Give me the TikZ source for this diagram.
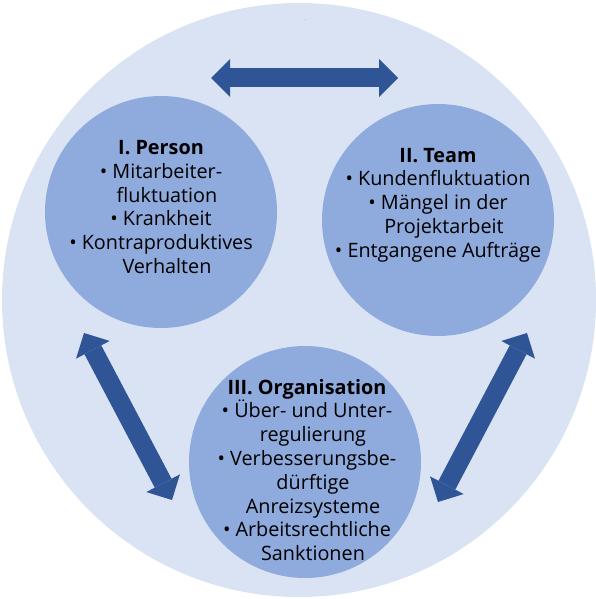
\documentclass[tikz,border=0pt]{standalone}
\usepackage{fontspec}
\setmainfont{Open Sans}
\usetikzlibrary{arrows.meta}
\definecolor{outerblue}{HTML}{DAE3F3}
\definecolor{innerblue}{HTML}{8FAADC}
\definecolor{arrowblue}{HTML}{2F5597}
\newcommand\einzug{\hspace*{12pt}}

\begin{document}
\begin{tikzpicture}[x=1pt,y=-1pt,
	bubble/.style={circle,fill=innerblue,minimum size=232pt,inner sep=0pt},
	body/.style={align=center,inner sep=0pt,font=\fontsize{19.8}{23.8}\selectfont},
	link/.style={draw=arrowblue,line width=19pt,
		{Triangle[length=19pt,width=38pt,line width=0pt]}-{Triangle[length=19pt,width=38pt,line width=0pt]}}]
\useasboundingbox (0,0) rectangle (596,599);
\fill[outerblue] (299,300) circle[radius=297pt];
\node[font=\fontsize{4}{4}\selectfont,inner sep=0pt] (dot) at (306,20) {.};

\node[bubble] (person) at (161,212) {};
\node[bubble] (team) at (438,220) {};
\node[bubble] (orga) at (305,462) {};

\node[body] (person text) at (161,207) {\textbf{I. Person}\\
	• Mitarbeiter-\\\einzug fluktuation\\
	• Krankheit\\
	• Kontraproduktives\\\einzug Verhalten};
\node[body] (team text) at (438,205) {\textbf{II. Team}\\
	• Kundenfluktuation\\
	• Mängel in der\\\einzug Projektarbeit\\
	• Entgangene Aufträge};
\node[body] (orga text) at (307,470) {\textbf{III. Organisation}\\
	• Über- und Unter-\\\einzug regulierung\\
	• Verbesserungsbe-\\\einzug dürftige\\\einzug Anreizsysteme\\
	• Arbeitsrechtliche\\\einzug Sanktionen};

\coordinate (top l) at (211,78);
\coordinate (top r) at (398,78);
\coordinate (left u) at (84,333);
\coordinate (left d) at (172,500);
\coordinate (right u) at (527,333);
\coordinate (right d) at (438,502);
\draw[link] (top l) -- (top r);
\draw[link] (left u) -- (left d);
\draw[link] (right u) -- (right d);
\end{tikzpicture}
\end{document}
